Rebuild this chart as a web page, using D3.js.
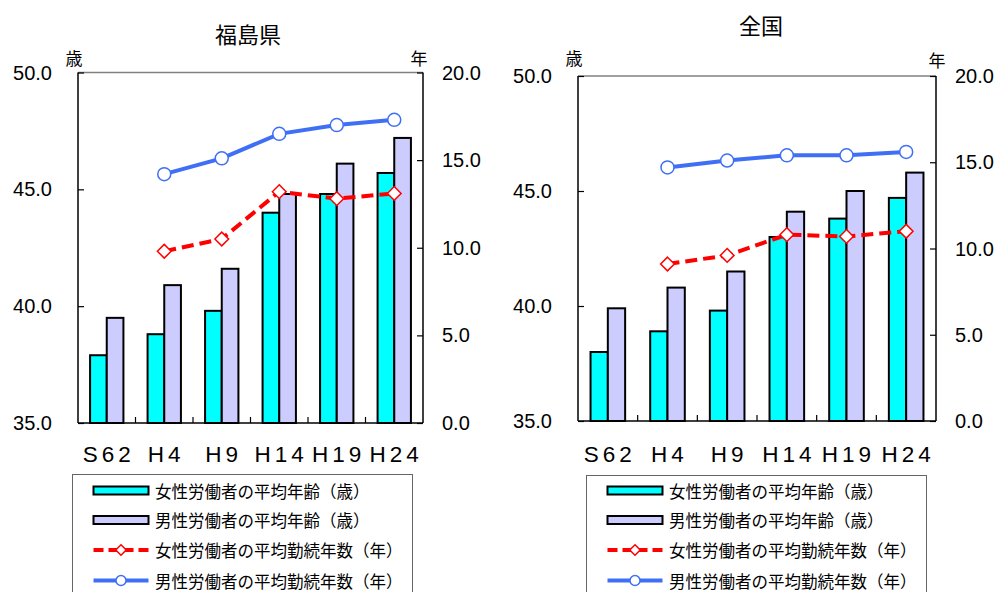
<!DOCTYPE html>
<html><head><meta charset="utf-8">
<script src="https://cdn.jsdelivr.net/npm/d3@7"></script>
<style>
html,body{margin:0;padding:0;background:#fff;}
svg{display:block;}
</style></head>
<body>
<svg id="chart" width="995" height="592"></svg>
<script>
// ---- data ----
const categories = ["S62","H4","H9","H14","H19","H24"];
const panelTitles = ["福島県","全国"];
const ageTicks = [35,40,45,50];
const tenureTicks = [0,5,10,15,20];
const fukushimaFemaleAge = [37.9, 38.8, 39.8, 44.0, 44.8, 45.7];
const fukushimaMaleAge   = [39.5, 40.9, 41.6, 44.8, 46.1, 47.2];
const fukushimaFemaleTenure = [null, 9.8, 10.5, 13.2, 12.8, 13.1];
const fukushimaMaleTenure   = [null, 14.2, 15.1, 16.5, 17.0, 17.3];
const zenkokuFemaleAge = [38.0, 38.9, 39.8, 43.0, 43.8, 44.7];
const zenkokuMaleAge   = [39.9, 40.8, 41.5, 44.1, 45.0, 45.8];
const zenkokuFemaleTenure = [null, 9.1, 9.6, 10.8, 10.7, 11.0];
const zenkokuMaleTenure   = [null, 14.7, 15.1, 15.4, 15.4, 15.6];
const legendLabels = ["女性労働者の平均年齢（歳）","男性労働者の平均年齢（歳）","女性労働者の平均勤続年数（年）","男性労働者の平均勤続年数（年）"];

// ---- styles ----
const C_F = "#00FFFF", C_M = "#CCCCFF", C_FL = "#FF0000", C_ML = "#3F6FF5";
const NUM_FONT = "'Liberation Sans', Arial, sans-serif";
const JP_FONT = "'Noto Sans CJK JP', 'Noto Sans', sans-serif";

const svg = d3.select("#chart");

const panels = [
  {title: panelTitles[0], x0:78, x1:423, y0:72.5, y1:423, titleX:248, titleY:33,
   fa: fukushimaFemaleAge, ma: fukushimaMaleAge, ft: fukushimaFemaleTenure, mt: fukushimaMaleTenure,
   legX:72.5, legY:474.5, unitLY:57, unitRY:57.5, unitRX:419},
  {title: panelTitles[1], x0:578, x1:936, y0:76, y1:421, titleX:761, titleY:23.5,
   fa: zenkokuFemaleAge, ma: zenkokuMaleAge, ft: zenkokuFemaleTenure, mt: zenkokuMaleTenure,
   legX:586.5, legY:475.5, unitLY:57, unitRY:59, unitRX:937}
];

panels.forEach(p => {
  const g = svg.append("g");
  const x = d3.scaleBand().domain(categories).range([p.x0, p.x1]).paddingInner(0).paddingOuter(0);
  const yA = d3.scaleLinear().domain([35,50]).range([p.y1, p.y0]);
  const yT = d3.scaleLinear().domain([0,20]).range([p.y1, p.y0]);
  const bw = x.bandwidth() * 0.29;

  // title
  g.append("text").attr("x", p.titleX).attr("y", p.titleY).attr("text-anchor","middle")
    .attr("dominant-baseline","central").attr("font-family", JP_FONT).attr("font-size", 22).text(p.title);
  // unit labels
  g.append("text").attr("x", p.x0 - 4).attr("y", p.unitLY).attr("text-anchor","middle")
    .attr("dominant-baseline","central").attr("font-family", JP_FONT).attr("font-size", 17).text("歳");
  g.append("text").attr("x", p.unitRX).attr("y", p.unitRY).attr("text-anchor","middle")
    .attr("dominant-baseline","central").attr("font-family", JP_FONT).attr("font-size", 17).text("年");

  // bars
  categories.forEach((c, i) => {
    const cx = x(c) + x.bandwidth()/2;
    g.append("rect").attr("x", cx - bw).attr("y", yA(p.fa[i])).attr("width", bw).attr("height", yA(35) - yA(p.fa[i]))
      .attr("fill", C_F).attr("stroke","#000").attr("stroke-width",2);
    g.append("rect").attr("x", cx).attr("y", yA(p.ma[i])).attr("width", bw).attr("height", yA(35) - yA(p.ma[i]))
      .attr("fill", C_M).attr("stroke","#000").attr("stroke-width",2);
  });

  // frame
  g.append("line").attr("x1", p.x0).attr("x2", p.x1).attr("y1", p.y0).attr("y2", p.y0).attr("stroke","#808080").attr("stroke-width",1.5);
  // left axis
  const axL = g.append("g").attr("transform",`translate(${p.x0},0)`)
    .call(d3.axisRight(yA).tickValues(ageTicks).tickSize(6).tickFormat(""));
  axL.select(".domain").attr("stroke","#000").attr("stroke-width",1.5).attr("d", `M0,${p.y0}V${p.y1}`);
  axL.selectAll(".tick line").attr("stroke","#000").attr("stroke-width",1.2);
  ageTicks.forEach(v => {
    g.append("text").attr("x", p.x0 - 26).attr("y", yA(v)).attr("text-anchor","end").attr("dominant-baseline","central")
      .attr("font-family", NUM_FONT).attr("font-size", 20).text(d3.format(".1f")(v));
  });
  // right axis
  const axR = g.append("g").attr("transform",`translate(${p.x1},0)`)
    .call(d3.axisLeft(yT).tickValues(tenureTicks).tickSize(6).tickFormat(""));
  axR.select(".domain").attr("stroke","#000").attr("stroke-width",1.5).attr("d", `M0,${p.y0}V${p.y1}`);
  axR.selectAll(".tick line").attr("stroke","#000").attr("stroke-width",1.2);
  tenureTicks.forEach(v => {
    g.append("text").attr("x", p.x1 + 19).attr("y", yT(v)).attr("text-anchor","start").attr("dominant-baseline","central")
      .attr("font-family", NUM_FONT).attr("font-size", 20).text(d3.format(".1f")(v));
  });
  // bottom axis
  g.append("line").attr("x1", p.x0).attr("x2", p.x1).attr("y1", p.y1).attr("y2", p.y1).attr("stroke","#000").attr("stroke-width",1.5);
  categories.slice(1).forEach(c => {
    g.append("line").attr("x1", x(c)).attr("x2", x(c)).attr("y1", p.y1).attr("y2", p.y1 - 6).attr("stroke","#000").attr("stroke-width",1.2);
  });
  categories.forEach(c => {
    g.append("text").attr("x", x(c) + x.bandwidth()/2 + 2).attr("y", 461.5).attr("text-anchor","middle")
      .attr("font-family", NUM_FONT).attr("font-size", 22.5).attr("letter-spacing", "4px").text(c);
  });

  // lines
  const pts = arr => categories.map((c,i)=>({x: x(c)+x.bandwidth()/2, v: arr[i]})).filter(d => d.v != null);
  const line = d3.line().x(d => d.x).y(d => yT(d.v));
  const fPts = pts(p.ft), mPts = pts(p.mt);
  g.append("path").datum(fPts).attr("d", line).attr("fill","none").attr("stroke", C_FL).attr("stroke-width",4).attr("stroke-dasharray","12,6");
  g.append("path").datum(mPts).attr("d", line).attr("fill","none").attr("stroke", C_ML).attr("stroke-width",4);
  const diamond = d3.symbol().type(d3.symbolDiamond2).size(120);
  fPts.forEach(d => {
    g.append("path").attr("d", diamond).attr("transform",`translate(${d.x},${yT(d.v)})`)
      .attr("fill","#fff").attr("stroke", C_FL).attr("stroke-width",1.5);
  });
  mPts.forEach(d => {
    g.append("circle").attr("cx", d.x).attr("cy", yT(d.v)).attr("r", 6.5)
      .attr("fill","#fff").attr("stroke", C_ML).attr("stroke-width",1.5);
  });

  // legend
  const lg = g.append("g");
  lg.append("rect").attr("x", p.legX).attr("y", p.legY).attr("width", 340).attr("height", 140)
    .attr("fill","#fff").attr("stroke","#666").attr("stroke-width",1);
  const sx0 = p.legX + 21, sx1 = p.legX + 76, tx = p.legX + 82.5;
  const rowY = [490.5, 520, 550, 580.5];
  lg.append("rect").attr("x", sx0).attr("y", rowY[0]-4).attr("width", sx1-sx0).attr("height", 8).attr("fill", C_F).attr("stroke","#000").attr("stroke-width",2);
  lg.append("rect").attr("x", sx0).attr("y", rowY[1]-4).attr("width", sx1-sx0).attr("height", 8).attr("fill", C_M).attr("stroke","#000").attr("stroke-width",2);
  lg.append("line").attr("x1", sx0).attr("x2", sx1).attr("y1", rowY[2]).attr("y2", rowY[2]).attr("stroke", C_FL).attr("stroke-width",4).attr("stroke-dasharray","10,5");
  lg.append("path").attr("d", d3.symbol().type(d3.symbolDiamond2).size(70)).attr("transform",`translate(${(sx0+sx1)/2},${rowY[2]})`)
    .attr("fill","#fff").attr("stroke", C_FL).attr("stroke-width",1.5);
  lg.append("line").attr("x1", sx0).attr("x2", sx1).attr("y1", rowY[3]).attr("y2", rowY[3]).attr("stroke", C_ML).attr("stroke-width",4);
  lg.append("circle").attr("cx", (sx0+sx1)/2).attr("cy", rowY[3]).attr("r", 5).attr("fill","#fff").attr("stroke", C_ML).attr("stroke-width",1.5);
  legendLabels.forEach((t,i) => {
    lg.append("text").attr("x", tx).attr("y", rowY[i]).attr("dominant-baseline","central")
      .attr("font-family", JP_FONT).attr("font-size", 16.5).text(t);
  });
});
</script>
</body></html>
